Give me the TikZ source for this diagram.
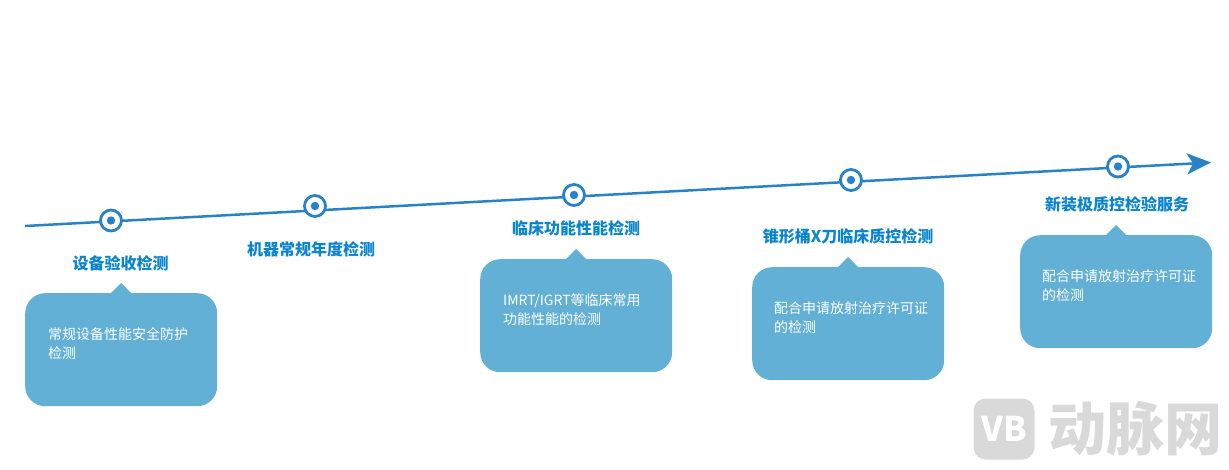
\documentclass[tikz,border=0pt]{standalone}
\usepackage{fontspec}
\setmainfont{Noto Sans CJK SC}
\usetikzlibrary{arrows.meta,positioning}
\definecolor{lineblue}{HTML}{2A82C6}
\definecolor{titleblue}{HTML}{0A84CC}
\definecolor{boxblue}{HTML}{62B0D6}
\definecolor{markgray}{HTML}{D9D9D9}
\newcommand{\pointer}[1]{\fill[boxblue] ([xshift=-11pt,yshift=-1pt]#1.north) -- ([yshift=10pt]#1.north) -- ([xshift=11pt,yshift=-1pt]#1.north) -- cycle;}

\begin{document}
\begin{tikzpicture}[
		x=1pt, y=-1pt,
		milestone/.style={draw=lineblue, line width=2.8pt, fill=white, circle, minimum size=21pt, inner sep=0pt,
			path picture={\fill[lineblue] (path picture bounding box.center) circle (4.2pt);}},
		title/.style={text=titleblue, font=\fontsize{16pt}{18pt}\selectfont\bfseries, inner sep=0pt},
		callout/.style={fill=boxblue, rounded corners=20pt, minimum width=192pt, minimum height=113pt, anchor=north west, inner sep=0pt},
		body/.style={text=white, font=\fontsize{14pt}{19.5pt}\selectfont, align=left, anchor=north west, inner sep=0pt},
	]
		\useasboundingbox (0,0) rectangle (1229,469);
		\coordinate (start) at (25,226);
		\coordinate (end) at (1211,162.5);
		\draw[lineblue, line width=2.5pt, -{Stealth[length=24pt,width=21pt,inset=6pt]}] (start) -- (end);
		
		\node [milestone] (mark a) at (111,220.5) {};
		\node [milestone] (mark b) at (315,206) {};
		\node [milestone] (mark c) at (574,195) {};
		\node [milestone] (mark d) at (851,180) {};
		\node [milestone] (mark e) at (1118,166.5) {};
		
		\node [title] (title a) at (120.5,263.5) {设备验收检测};
		\node [title] (title b) at (311,249.5) {机器常规年度检测};
		\node [title] (title c) at (576,228.5) {临床功能性能检测};
		\node [title] (title d) at (848,236.5) {锥形桶X刀临床质控检测};
		\node [title] (title e) at (1117,204.5) {新装极质控检验服务};
		
		\node [callout] (box a) at (25,293) {};
		\node [callout] (box c) at (480,259) {};
		\node [callout] (box d) at (752,267) {};
		\node [callout] (box e) at (1020,235) {};
		\pointer{box a}
		\pointer{box c}
		\pointer{box d}
		\pointer{box e}
		
		\node [body, below right=34pt and 23pt of box a.north west] (text a) {常规设备性能安全防护\\检测};
		\node [body, below right=34pt and 23pt of box c.north west] (text c) {IMRT/IGRT等临床常用\\功能性能的检测};
		\node [body, below right=34pt and 22pt of box d.north west] (text d) {配合申请放射治疗许可证\\的检测};
		\node [body, below right=34pt and 22pt of box e.north west] (text e) {配合申请放射治疗许可证\\的检测};
		
		% watermark
		\node [fill=markgray, rounded corners=12pt, minimum size=61pt, inner sep=0pt, text=white, font=\fontsize{34pt}{34pt}\selectfont\bfseries] (logo) at (1004,429) {VB};
		\node [text=markgray, font=\fontsize{58pt}{60pt}\selectfont\bfseries, inner sep=0pt, right=14pt of logo] (brand) {动脉网};
	\end{tikzpicture}
\end{document}
